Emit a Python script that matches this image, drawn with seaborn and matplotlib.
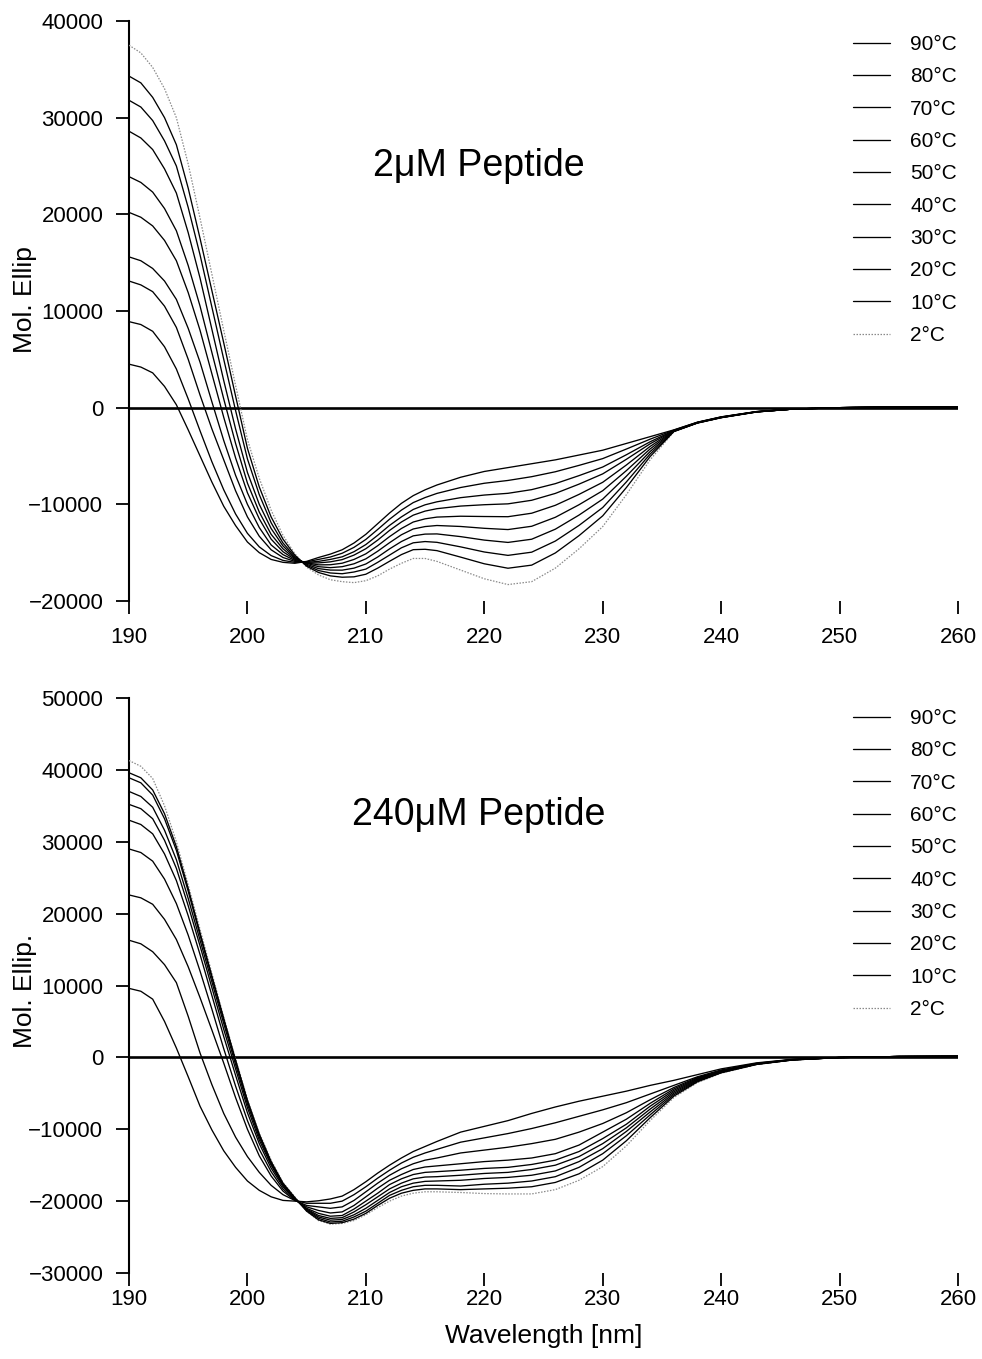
import matplotlib
matplotlib.use("Agg")
import matplotlib.pyplot as plt
import seaborn as sns

sns.set_style("ticks")
plt.rcParams['font.family'] = ['Liberation Sans', 'DejaVu Sans']
plt.rcParams['text.color'] = 'black'
plt.rcParams['axes.labelcolor'] = 'black'

# ---------------- data ----------------
wavelength = [190, 191, 192, 193, 194, 195, 196, 197, 198, 199, 200, 201, 202, 203, 204, 205, 206, 207, 208,
              209, 210, 211, 212, 213, 214, 215, 216, 218, 220, 222, 224, 226, 228, 230, 232, 234, 236,
              238, 240, 243, 246, 250, 255, 260]
temps = ["2°C", "10°C", "20°C", "30°C", "40°C", "50°C", "60°C", "70°C", "80°C", "90°C"]
x_ticks = [190, 200, 210, 220, 230, 240, 250, 260]
top_yticks = [-20000, -10000, 0, 10000, 20000, 30000, 40000]
bot_yticks = [-30000, -20000, -10000, 0, 10000, 20000, 30000, 40000, 50000]

# 2 uM peptide
top_02 = [37500, 36700, 35200, 33000, 30000, 25200, 19600, 13800, 8000, 2300, -3300, -7300, -10600, -13200, -15100,
          -16500, -17300, -17800, -18000, -18100, -17900, -17400, -16700, -16100, -15600, -15600, -15900,
          -16800, -17700, -18300, -18000, -16600, -14600, -12300, -9000, -5400, -2500, -1600, -1050, -450, -150, 0, 70, 40]
top_10 = [34300, 33600, 32100, 30000, 27200, 22700, 17500, 12100, 6700, 1200, -4200, -8200, -11300, -13600, -15250,
          -16400, -17050, -17400, -17540, -17500, -17230, -16600, -15890, -15200, -14690, -14650, -14790,
          -15460, -16150, -16610, -16290, -15030, -13240, -11190, -8260, -5060, -2480, -1590, -1040, -445, -150, 0, 70, 40]
top_20 = [31800, 31100, 29700, 27600, 25000, 20700, 15800, 10400, 5000, -300, -5300, -9000, -11900, -14000, -15400,
          -16300, -16850, -17100, -17180, -17000, -16700, -16000, -15250, -14500, -13980, -13850, -13930,
          -14400, -14930, -15280, -14950, -13800, -12180, -10330, -7680, -4800, -2460, -1580, -1030, -440, -150, 0, 70, 40]
top_30 = [28600, 27900, 26700, 24700, 22200, 18100, 13400, 8100, 2800, -2200, -6700, -10000, -12500, -14300, -15500,
          -16200, -16650, -16800, -16810, -16600, -16170, -15450, -14610, -13850, -13260, -13080, -13060,
          -13340, -13700, -13940, -13610, -12570, -11110, -9460, -7090, -4540, -2440, -1570, -1020, -435, -150, 0, 70, 40]
top_40 = [23900, 23300, 22300, 20600, 18300, 14700, 10500, 5700, 900, -3700, -7800, -10800, -13100, -14600, -15600,
          -16100, -16450, -16550, -16450, -16150, -15640, -14850, -13970, -13150, -12550, -12300, -12190,
          -12290, -12480, -12610, -12270, -11340, -10040, -8590, -6510, -4270, -2420, -1560, -1010, -430, -150, 0, 70, 40]
top_50 = [20200, 19700, 18800, 17300, 15200, 11900, 8000, 3500, -1000, -5200, -8800, -11500, -13600, -14900, -15700,
          -16050, -16260, -16250, -16090, -15700, -15120, -14280, -13340, -12500, -11830, -11500, -11320,
          -11230, -11260, -11280, -10920, -10100, -8970, -7720, -5930, -4010, -2400, -1550, -1000, -425, -150, 0, 70, 40]
top_60 = [15600, 15200, 14400, 13100, 11200, 8200, 4700, 600, -3400, -7000, -10000, -12400, -14200, -15200, -15800,
          -16050, -16060, -15950, -15720, -15250, -14590, -13700, -12700, -11830, -11120, -10700, -10450,
          -10180, -10040, -9950, -9580, -8870, -7910, -6850, -5340, -3740, -2380, -1540, -990, -420, -150, 0, 70, 40]
top_70 = [13100, 12700, 12000, 10500, 8300, 5000, 1300, -2200, -5400, -8600, -11300, -13300, -14700, -15500, -15900,
          -16000, -15900, -15700, -15430, -14900, -14160, -13200, -12180, -11300, -10530, -10050, -9740,
          -9310, -9040, -8860, -8480, -7860, -7030, -6140, -4870, -3530, -2360, -1530, -980, -415, -150, 0, 70, 40]
top_80 = [8900, 8600, 7900, 6300, 4000, 900, -2400, -5600, -8500, -11000, -13000, -14400, -15300, -15800, -16000,
          -15950, -15700, -15450, -15060, -14450, -13630, -12600, -11540, -10600, -9820, -9300, -8870,
          -8260, -7820, -7530, -7140, -6630, -5970, -5270, -4280, -3260, -2330, -1510, -960, -405, -150, 0, 70, 40]
top_90 = [4500, 4200, 3600, 2200, 300, -2300, -5000, -7700, -10200, -12200, -13900, -15000, -15700, -16000, -16100,
          -15900, -15500, -15150, -14700, -14000, -13100, -12000, -10900, -9900, -9100, -8500, -8000,
          -7200, -6600, -6200, -5800, -5400, -4900, -4400, -3700, -3000, -2300, -1500, -950, -400, -150, 0, 70, 40]

# 240 uM peptide
bot_02 = [41300, 40500, 38800, 35000, 30000, 24000, 17800, 11700, 5600, -200, -5800, -10500, -14300, -17400, -19400,
          -21400, -22700, -23200, -23100, -22700, -21900, -20900, -20000, -19300, -18900, -18700, -18700,
          -18800, -18950, -19000, -19000, -18400, -17100, -15200, -12300, -8800, -5600, -3500, -2200, -1000, -380, -20, 120, 150]
bot_10 = [39600, 38900, 37200, 33900, 29300, 23500, 17300, 11300, 5400, -400, -6000, -10700, -14500, -17500, -19500,
          -21400, -22600, -23100, -23000, -22500, -21700, -20600, -19600, -18900, -18500, -18300, -18300,
          -18400, -18300, -18200, -18000, -17400, -16200, -14300, -11600, -8400, -5400, -3400, -2150, -980, -370, -20, 120, 150]
bot_20 = [38900, 38200, 36500, 33200, 28800, 23100, 17000, 11100, 5200, -500, -6100, -10800, -14600, -17600, -19600,
          -21300, -22400, -22900, -22800, -22200, -21400, -20300, -19200, -18500, -18000, -17800, -17800,
          -17900, -17650, -17500, -17200, -16600, -15300, -13400, -10900, -8000, -5200, -3300, -2100, -960, -360, -20, 120, 150]
bot_30 = [37000, 36300, 34800, 31600, 27500, 22100, 16300, 10500, 4700, -1000, -6500, -11100, -14800, -17700, -19600,
          -21200, -22200, -22650, -22550, -21900, -21000, -19900, -18800, -18000, -17500, -17250, -17200,
          -17100, -16850, -16700, -16400, -15800, -14500, -12700, -10300, -7600, -5000, -3200, -2050, -940, -350, -20, 120, 150]
bot_40 = [35200, 34600, 33200, 30200, 26300, 21100, 15500, 9700, 3900, -1600, -7000, -11500, -15000, -17800, -19700,
          -21100, -22000, -22400, -22300, -21500, -20500, -19400, -18300, -17500, -16900, -16650, -16600,
          -16400, -16150, -16000, -15600, -15000, -13800, -12000, -9800, -7200, -4800, -3100, -2000, -920, -340, -20, 120, 150]
bot_50 = [33000, 32400, 31100, 28300, 24600, 19700, 14300, 8600, 2900, -2500, -7700, -12000, -15400, -18000, -19700,
          -21000, -21700, -22100, -22000, -21100, -20000, -18900, -17700, -16900, -16300, -16000, -15900,
          -15700, -15450, -15300, -14900, -14300, -13100, -11300, -9300, -6800, -4600, -3000, -1950, -900, -330, -20, 120, 150]
bot_60 = [29000, 28500, 27300, 24800, 21400, 17000, 12000, 6700, 1200, -4000, -8800, -12800, -15900, -18300, -19800,
          -20800, -21300, -21650, -21500, -20600, -19400, -18200, -17100, -16300, -15600, -15250, -15100,
          -14800, -14500, -14300, -14000, -13400, -12200, -10400, -8600, -6400, -4400, -2900, -1900, -880, -320, -20, 120, 150]
bot_70 = [22600, 22200, 21300, 19200, 16400, 12600, 8300, 3800, -800, -5600, -10000, -13700, -16500, -18600, -19900,
          -20600, -20800, -21000, -20800, -19900, -18700, -17500, -16400, -15500, -14800, -14300, -14000,
          -13300, -12900, -12500, -12000, -11400, -10400, -9200, -7700, -5900, -4200, -2800, -1850, -860, -310, -20, 120, 150]
bot_80 = [16300, 15800, 14700, 12900, 10400, 5700, 600, -3800, -7800, -11100, -13800, -16000, -17800, -19100, -19900,
          -20300, -20300, -20300, -20000, -19100, -18000, -16800, -15700, -14700, -13900, -13300, -12800,
          -11800, -11200, -10600, -9900, -9100, -8200, -7300, -6300, -5100, -3900, -2700, -1750, -820, -300, -20, 120, 150]
bot_90 = [9600, 9200, 8100, 5000, 1300, -2700, -6800, -10100, -13000, -15300, -17200, -18500, -19400, -19900, -20000,
          -20100, -19950, -19700, -19300, -18400, -17300, -16100, -15000, -14000, -13100, -12400, -11700,
          -10400, -9600, -8800, -7800, -6900, -6100, -5400, -4700, -3900, -3200, -2400, -1600, -760, -280, -20, 120, 150]

top_series = [top_02, top_10, top_20, top_30, top_40, top_50, top_60, top_70, top_80, top_90]
bot_series = [bot_02, bot_10, bot_20, bot_30, bot_40, bot_50, bot_60, bot_70, bot_80, bot_90]

# ---------------- figure ----------------
W, H = 982, 1359
fig = plt.figure(figsize=(W / 100, H / 100), dpi=100)


def px_axes(left, top, right, bottom):
    return fig.add_axes([left / W, 1 - bottom / H, (right - left) / W, (bottom - top) / H])


ax1 = px_axes(129, 21, 958, 601)
ax2 = px_axes(129, 698, 958, 1273)


def draw_panel(ax, series, yticks, ylim, ylabel, label_y, title, title_y, legend_top, xpad):
    ax.axhline(0, color="black", lw=1.9, zorder=1)
    for lab, vals in zip(temps, series):
        if lab == "2°C":
            sns.lineplot(x=wavelength, y=vals, ax=ax, color="#8a8a8a", lw=0.9,
                         linestyle=(0, (1.2, 1.2)), label=lab, zorder=3)
        else:
            sns.lineplot(x=wavelength, y=vals, ax=ax, color="black", lw=0.95,
                         label=lab, zorder=3)
    ax.set_xlim(190, 260)
    ax.set_ylim(*ylim)
    ax.set_xticks(x_ticks)
    ax.set_yticks(yticks)
    ax.set_yticklabels([f"{v}".replace("-", "\u2212") for v in yticks])
    for s in ["top", "right", "bottom"]:
        ax.spines[s].set_visible(False)
    ax.spines["left"].set_linewidth(1.5)
    ax.spines["left"].set_color("black")
    ax.tick_params(axis="both", direction="out", length=9.5, width=1.3,
                   labelsize=16, colors="black")
    ax.tick_params(axis="y", pad=9)
    ax.tick_params(axis="x", pad=xpad)
    ax.set_xlabel("")
    ax.set_ylabel(ylabel, fontsize=19, color="black")
    ax.yaxis.set_label_coords(-0.111, label_y)
    ax.text(219.5, title_y, title, fontsize=27, ha="center", va="center", color="black")
    handles, labels = ax.get_legend_handles_labels()
    leg = ax.legend(handles[::-1], labels[::-1], loc="upper left",
                    bbox_to_anchor=(853 / W, 1 - legend_top / H),
                    bbox_transform=fig.transFigure, frameon=False, fontsize=15,
                    handlelength=1.78, handletextpad=0.96, labelspacing=0.64,
                    borderpad=0, borderaxespad=0)
    for t in leg.get_texts():
        t.set_color("black")


draw_panel(ax1, top_series, top_yticks, (-20000, 40000), "Mol. Ellip", 0.52,
           "2\u03bcM Peptide", 25000, 35, 9)
draw_panel(ax2, bot_series, bot_yticks, (-30000, 50000), "Mol. Ellip.", 0.49,
           "240\u03bcM Peptide", 33700, 709, 2)
ax2.set_xlabel("Wavelength [nm]", fontsize=19, color="black")
ax2.xaxis.set_label_coords(0.5, -0.088)

fig.savefig("out.png", dpi=100, facecolor="white")
